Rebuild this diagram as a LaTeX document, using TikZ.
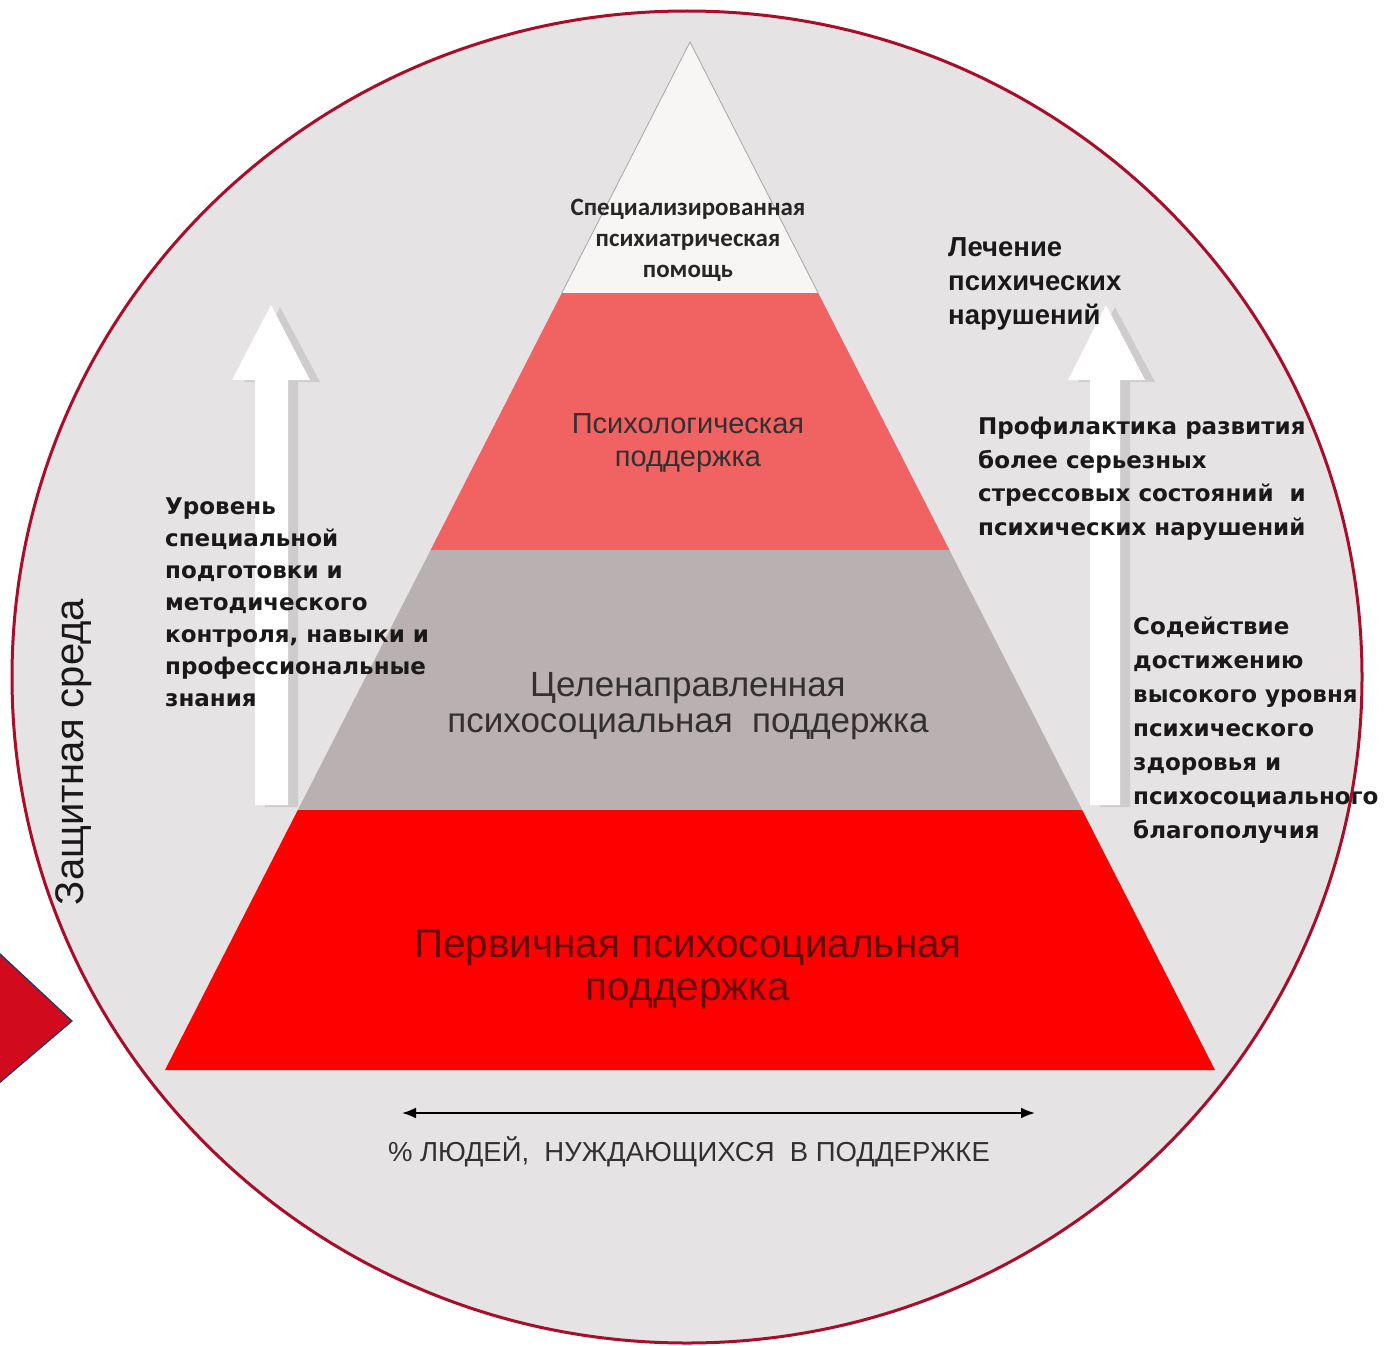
\documentclass[tikz,border=0pt]{standalone}
\usepackage{fontspec}
\setmainfont{Liberation Sans}
\newfontfamily\djv{DejaVu Sans}
\newfontfamily\carl{Carlito}
\usetikzlibrary{arrows.meta}
\definecolor{circfill}{HTML}{E5E3E4}
\definecolor{circline}{HTML}{A80E2A}
\definecolor{topwhite}{HTML}{F8F5F5}
\definecolor{pinklvl}{HTML}{F16262}
\definecolor{graylvl}{HTML}{B9B1B1}
\definecolor{redlvl}{HTML}{FE0000}
\definecolor{darkred}{HTML}{640808}
\definecolor{diamfill}{HTML}{D20A1E}
\definecolor{diamline}{HTML}{1F3A6E}
\definecolor{txtgray}{HTML}{333030}
\tikzset{
  boldtxt/.style={inner sep=0pt, align=left, anchor=north west, text=black!90,
    font=\djv\bfseries\fontsize{23}{33.5}\selectfont},
  whitearrow/.style={fill=white, draw=none},
  arrowshadow/.style={fill=black!30, opacity=0.45, draw=none},
}
\begin{document}
\begin{tikzpicture}[x=1pt,y=-1pt]
\useasboundingbox (0,0) rectangle (1392,1346);
\fill[white] (0,0) rectangle (1392,1346);
% circle background
\coordinate (C) at (687,677);
\fill[circfill] (C) ellipse [x radius=675, y radius=666];

% pyramid coordinates
\coordinate (apex) at (690,42);
\coordinate (l1) at (561.8,293); \coordinate (r1) at (818.2,293);
\coordinate (l2) at (430.6,550); \coordinate (r2) at (949.4,550);
\coordinate (l3) at (297.8,810); \coordinate (r3) at (1082.2,810);
\coordinate (l4) at (165,1070);  \coordinate (r4) at (1215,1070);

\fill[topwhite] (apex) -- (l1) -- (r1) -- cycle;
\draw[black!35, line width=0.8] (l1) -- (apex) -- (r1);
\fill[pinklvl] (l1) -- (r1) -- (r2) -- (l2) -- cycle;
\fill[graylvl] (l2) -- (r2) -- (r3) -- (l3) -- cycle;
\fill[redlvl] (l3) -- (r3) -- (r4) -- (l4) -- cycle;

% white arrows with shadow
\fill[arrowshadow] (265,807) -- (265,382) -- (244,382) -- (280,307) -- (320,382) -- (298,382) -- (298,807) -- cycle;
\fill[whitearrow] (255,805) -- (255,380) -- (232,380) -- (271,305) -- (310,380) -- (288,380) -- (288,805) -- cycle;
\fill[arrowshadow] (1100,807) -- (1100,382) -- (1078,382) -- (1115,307) -- (1155,382) -- (1130,382) -- (1130,807) -- cycle;
\fill[whitearrow] (1090,805) -- (1090,380) -- (1068,380) -- (1106,305) -- (1145,380) -- (1120,380) -- (1120,805) -- cycle;

% left diamond
\fill[diamfill, draw=diamline, line width=1.2] (-2,952) -- (72,1021) -- (-2,1084) -- cycle;

% pyramid texts
\node[inner sep=0pt, align=center, anchor=north, text=black!85,
  font=\carl\bfseries\fontsize{25}{31}\selectfont] (spec) at (688,199)
  {Специализированная\\психиатрическая\\помощь};
\node[inner sep=0pt, align=center, anchor=north, text=txtgray,
  font=\fontsize{29}{33}\selectfont] (psych) at (688,413)
  {Психологическая\\поддержка};
\node[inner sep=0pt, align=center, anchor=north, text=txtgray,
  font=\fontsize{35}{36}\selectfont] (target) at (688,672)
  {Целенаправленная\\психосоциальная\ \ поддержка};
\node[inner sep=0pt, align=center, anchor=north, text=darkred,
  font=\fontsize{40.5}{43}\selectfont] (prim) at (688,929)
  {Первичная психосоциальная\\поддержка};

% side texts
\node[boldtxt, font=\djv\bfseries\fontsize{23}{32}\selectfont] (level) at (165,498)
  {Уровень\\специальной\\подготовки и\\методического\\контроля, навыки и\\профессиональные\\знания};
\node[boldtxt, font=\bfseries\fontsize{27.5}{34}\selectfont] (treat) at (948,237)
  {Лечение\\психических\\нарушений};
\node[boldtxt] (prev) at (978,417)
  {Профилактика развития\\более серьезных\\стрессовых состояний\ \ и\\психических нарушений};
\node[boldtxt, font=\djv\bfseries\fontsize{23}{34}\selectfont] (promo) at (1133,617)
  {Содействие\\достижению\\высокого уровня\\психического\\здоровья и\\психосоциального\\благополучия};

\node[inner sep=0pt, rotate=90, text=black!90, font=\fontsize{40}{40}\selectfont] (env) at (74,752)
  {Защитная среда};

% axis arrow
\coordinate (axL) at (402,1113);
\coordinate (axR) at (1035,1113);
\draw[{Latex[length=14,width=11]}-{Latex[length=14,width=11]}, line width=2] (axL) -- (axR);
\node[inner sep=0pt, text=txtgray, font=\fontsize{27.5}{30}\selectfont] (axis) at (689,1152)
  {\%\ ЛЮДЕЙ,\ \ НУЖДАЮЩИХСЯ\ \ В ПОДДЕРЖКЕ};

% circle border
\draw[circline, line width=3] (C) ellipse [x radius=675, y radius=666];
\end{tikzpicture}
\end{document}
